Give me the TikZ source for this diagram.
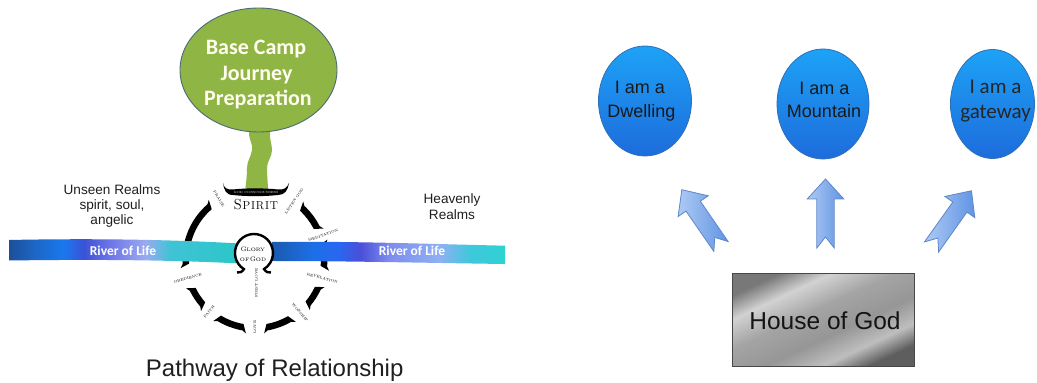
\documentclass[tikz,border=0pt]{standalone}
\usepackage{fontspec}
\newfontfamily\arialf{Liberation Sans}
\newfontfamily\calf{Carlito}
\usetikzlibrary{shapes.geometric}
\definecolor{rA}{HTML}{1D4F9A}\definecolor{rB}{HTML}{1D66C4}\definecolor{rC}{HTML}{1A78EE}
\definecolor{rD}{HTML}{3B52D6}\definecolor{rE}{HTML}{6C74E6}\definecolor{rF}{HTML}{9AAAF0}
\definecolor{rG}{HTML}{3FC3D6}\definecolor{rH}{HTML}{2CC6C8}
\definecolor{sA}{HTML}{1B5AAE}\definecolor{sB}{HTML}{1C6FE8}\definecolor{sC}{HTML}{2A66F0}
\definecolor{sD}{HTML}{4A4FD8}\definecolor{sE}{HTML}{7E8CEE}\definecolor{sF}{HTML}{8FB0F2}
\definecolor{sG}{HTML}{3EC8DC}\definecolor{sH}{HTML}{2ED2D2}
\definecolor{mA}{HTML}{787878}\definecolor{mB}{HTML}{D2D2D2}\definecolor{mC}{HTML}{A4A4A4}
\definecolor{mD}{HTML}{969696}\definecolor{mE}{HTML}{BEBEBE}\definecolor{mF}{HTML}{5E5E5E}
\definecolor{greenfill}{HTML}{8FB545}
\definecolor{greenedge}{HTML}{4D6B7A}
\definecolor{bluetop}{HTML}{1DA2F6}
\definecolor{bluebot}{HTML}{1D6CDC}
\definecolor{blueedge}{HTML}{2F6FB6}
\definecolor{arrL}{HTML}{AECAF3}
\definecolor{arrR}{HTML}{6094E4}
\definecolor{arrE}{HTML}{5F86C8}
\pgfdeclarehorizontalshading{riverL}{100bp}{color(0bp)=(rA);color(25bp)=(rA);color(30.5bp)=(rB);color(37bp)=(rC);color(41.5bp)=(rD);color(47bp)=(rE);color(55bp)=(rF);color(60.5bp)=(rG);color(75bp)=(rH);color(100bp)=(rH)}
\pgfdeclarehorizontalshading{riverR}{100bp}{color(0bp)=(sA);color(25bp)=(sA);color(34bp)=(sB);color(39.5bp)=(sC);color(44bp)=(sD);color(50bp)=(sE);color(61bp)=(sF);color(67.5bp)=(sG);color(75bp)=(sH);color(100bp)=(sH)}
\pgfdeclarehorizontalshading{metal}{100bp}{color(0bp)=(mA);color(25bp)=(mA);color(34bp)=(mB);color(45bp)=(mC);color(57bp)=(mD);color(67bp)=(mE);color(75bp)=(mF);color(100bp)=(mF)}
\newcommand\ringseg[2]{\fill[black] (#1:75) -- ({#1+3}:72.5) arc[start angle={#1+3}, end angle={#2-3}, radius=72.5] -- (#2:75) -- ({#2-3}:66) arc[start angle={#2-3}, end angle={#1+3}, radius=66] -- cycle;}
\newcommand\blockarrow[2]{\begin{scope}[shift={(#1)},rotate=#2]
\path[blkarrow] (0,-8.7) -- (49,-8.7) -- (49,-18.3) -- (69,0) -- (49,18.3) -- (49,8.7) -- (0,8.7) -- (11,0) -- cycle;
\end{scope}}
\tikzset{
 ringlab/.style={font=\fontsize{3.6}{3.6}\selectfont, inner sep=0pt},
 realm/.style={font=\arialf\fontsize{13.6}{15}\selectfont, anchor=base, inner sep=0pt, text=black!88},
 camptext/.style={font=\calf\bfseries\fontsize{22}{26}\selectfont, anchor=base, inner sep=0pt, text=white!94!yellow},
 rivertext/.style={font=\calf\bfseries\fontsize{13.5}{15}\selectfont, anchor=base, inner sep=0pt, text=white},
 blueell/.style={ellipse, inner sep=0pt, top color=bluetop, bottom color=bluebot, draw=blueedge, line width=0.8pt},
 elltext/.style={font=\arialf\fontsize{18}{20}\selectfont, anchor=base, inner sep=0pt, text=black!90},
 elltextc/.style={font=\calf\fontsize{21}{23}\selectfont, anchor=base, inner sep=0pt, text=black!85},
 blkarrow/.style={left color=arrL, right color=arrR, draw=arrE, line width=0.8pt, line join=miter},
}
\begin{document}
\begin{tikzpicture}[x=1pt,y=1pt]
\useasboundingbox (0,0) rectangle (1037,383);
% ---------- ring ----------
\begin{scope}[shift={(255,124)}]
\ringseg{128}{187}
\ringseg{203}{224}
\ringseg{236}{263}
\ringseg{277}{303}
\ringseg{317}{338}
\ringseg{351}{375}
\ringseg{24}{50}
\node[ringlab, rotate=-59] (lpraise) at (121:70) {PRAISE};
\node[ringlab, rotate=56] (llisten) at (56:70) {LISTEN GOD};
\node[ringlab, rotate=19] (lmedit) at (19:72) {MEDITATION};
\node[ringlab, rotate=-16] (lrevel) at (344:70) {REVELATION};
\node[ringlab, rotate=-50] (lwors) at (310:70) {WORSHIP};
\node[ringlab, rotate=90] (llove) at (270:68) {LOVE};
\node[ringlab, rotate=49] (lfaith) at (229:70) {FAITH};
\node[ringlab, rotate=16] (lobed) at (196:70) {OBEDIENCE};
\end{scope}
% ---------- stem ----------
\fill[greenfill] (249,258) -- (249,248) .. controls (250,242) and (253,238) .. (252,233) .. controls (251,226) and (247,222) .. (247,215) .. controls (247,207) and (246,200) .. (245,191) -- (268,191) .. controls (268,200) and (267,207) .. (267,215) .. controls (267,222) and (272,226) .. (272,233) .. controls (272,238) and (270,242) .. (270,248) -- (270,258) -- cycle;
% ---------- banner ----------
\fill[black] (223,200) .. controls (224,195) and (227,193) .. (233,193.5) .. controls (245,195) and (265,195) .. (278,193.5) .. controls (284,193) and (287,195) .. (289,200) .. controls (288,193) and (285,188) .. (278,188) .. controls (265,186.5) and (245,186.5) .. (233,188) .. controls (226,188) and (224,193) .. (223,200) -- cycle;
\node[font=\fontsize{3}{3}\selectfont, text=white, inner sep=0pt] (bantext) at (256,191) {GOD CONSCIOUSNESS};
\node[anchor=base, inner sep=0pt] (spirit) at (256,173) {{\fontsize{14.5}{14.5}\selectfont S}{\fontsize{11.5}{11.5}\selectfont\kern0.8pt P\kern0.8pt I\kern0.8pt R\kern0.8pt I\kern0.8pt T}};
% ---------- river ----------
\path[shading=riverL] (9,143) .. controls (80,144.5) and (160,144) .. (236,139.7) -- (236,119.7) .. controls (160,123.5) and (80,123.5) .. (9,122.5) -- cycle;
\path[shading=riverR] (272,141) .. controls (350,142) and (430,139) .. (505,137.3) -- (505,119) .. controls (430,120) and (350,122) .. (272,122) -- cycle;
\node[rivertext] (rivl) at (123,127.5) {River of Life};
\node[rivertext] (rivr) at (412,127.5) {River of Life};
% ---------- glory circle ----------
\fill[white] (254,130) circle[radius=18];
\draw[line width=2.4pt] (237,110.5) .. controls (240,110) and (242,111) .. (243.9,113.9) arc[start angle=238, end angle=-58, radius=19] .. controls (266,111) and (268,110) .. (271,110.5);
\node[anchor=base, inner sep=0pt] (glory1) at (253,131) {{\fontsize{6.5}{6.5}\selectfont G}{\fontsize{5}{5}\selectfont LORY}};
\node[anchor=base, inner sep=0pt] (glory2) at (253,121.5) {{\fontsize{5}{5}\selectfont OF\,}{\fontsize{6.5}{6.5}\selectfont G}{\fontsize{5}{5}\selectfont OD}};
\node[ringlab, rotate=90] (firstlove) at (256.5,100) {FIRST LOVE};
% ---------- base camp ----------
\node[ellipse, fill=greenfill, draw=greenedge, line width=0.9pt, minimum width=157pt, minimum height=124pt, inner sep=0pt] (camp) at (258.5,313) {};
\node[camptext] (bc1) at (256,328) {Base Camp};
\node[camptext] (bc2) at (256.5,302.5) {Journey};
\node[camptext] (bc3) at (258,277) {Preparation};
% ---------- realms ----------
\node[realm] (un1) at (112,188.7) {Unseen Realms};
\node[realm] (un2) at (112,173) {spirit, soul,};
\node[realm] (un3) at (112,158) {angelic};
\node[realm] (hv1) at (452,179) {Heavenly};
\node[realm] (hv2) at (452,163) {Realms};
\node[font=\arialf\fontsize{24}{26}\selectfont, anchor=base, inner sep=0pt, text=black!88] (pathway) at (274.7,6) {Pathway of Relationship};
% ---------- right diagram ----------
\node[blueell, minimum width=93pt, minimum height=110pt] (e1) at (645,282) {};
\node[blueell, minimum width=92pt, minimum height=110pt] (e2) at (823,279) {};
\node[blueell, minimum width=84pt, minimum height=109pt] (e3) at (992.5,279) {};
\node[elltext] (e1a) at (640,289) {I am a};
\node[elltext] (e1b) at (641.5,265) {Dwelling};
\node[elltext] (e2a) at (824.5,288.7) {I am a};
\node[elltext] (e2b) at (824,265.7) {Mountain};
\node[elltextc] (e3a) at (995.5,289.7) {I am a};
\node[elltextc] (e3b) at (995.5,264.7) {gateway};
\coordinate (t1) at (721,136.5);
\coordinate (t2) at (825.5,135);
\coordinate (t3) at (931.5,136);
\blockarrow{t1}{124.6}
\blockarrow{t2}{90}
\blockarrow{t3}{54.6}
\path[shading=metal, shading angle=-65] (732,16.3) rectangle (914.3,109.7);
\draw[black!72, line width=1pt] (732,16.3) rectangle (914.3,109.7);
\node[font=\arialf\fontsize{24.5}{26}\selectfont, anchor=base, inner sep=0pt, text=black!92] (house) at (825,53) {House of God};
\end{tikzpicture}
\end{document}
